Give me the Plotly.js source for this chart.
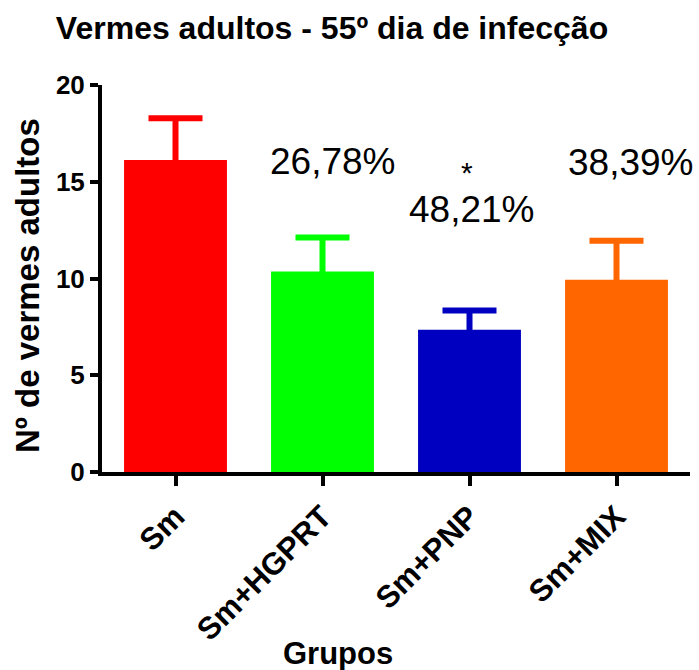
<!DOCTYPE html>
<html>
<head>
<meta charset="utf-8">
<script src="https://cdn.plot.ly/plotly-3.0.1.min.js"></script>
<style>html,body{margin:0;padding:0;background:#fff;}#chart{width:699px;height:670px;}</style>
</head>
<body>
<div id="chart"></div>
<script>
const categories = ["Sm", "Sm+HGPRT", "Sm+PNP", "Sm+MIX"];
const means = [16.13, 10.36, 7.35, 9.93];
const sem = [2.15, 1.76, 1.00, 2.02];
const colors = ["#FF0000", "#00FF00", "#0000C0", "#FF6600"];
const yTicks = [0, 5, 10, 15, 20];
const percentLabels = ["26,78%", "48,21%", "38,39%"];
const FONT = '"Liberation Sans", Arial, sans-serif';

const traces = categories.map((c, i) => ({
  type: 'bar',
  x: [c],
  y: [means[i]],
  marker: {color: colors[i], line: {width: 0}},
  error_y: {type: 'data', array: [sem[i]], visible: true, color: colors[i], thickness: 6, width: 27},
  width: 0.7,
  showlegend: false,
  hoverinfo: 'skip'
}));

const layout = {
  width: 699, height: 670,
  margin: {l: 102, r: 9, t: 85, b: 198},
  paper_bgcolor: '#fff', plot_bgcolor: '#fff',
  font: {family: FONT, color: '#000'},
  title: {text: 'Vermes adultos - 55º dia de infecção', font: {family: FONT, size: 32, color: '#000', weight: 'bold'},
          x: 0.475, xanchor: 'center', xref: 'container', y: 0.958, yanchor: 'middle', yref: 'container'},
  barmode: 'overlay',
  xaxis: {
    type: 'category', categoryarray: categories, categoryorder: 'array',
    range: [-0.5, 3.5], showgrid: false, zeroline: false,
    showline: true, linecolor: '#000', linewidth: 4,
    ticks: 'outside', ticklen: 10, tickwidth: 4, tickcolor: '#000',
    tickangle: -45, tickfont: {family: FONT, size: 31, weight: 'bold', color: '#000'}
  },
  yaxis: {
    range: [0, 20], tickvals: yTicks, ticktext: yTicks.map(String),
    showgrid: false, zeroline: false,
    showline: true, linecolor: '#000', linewidth: 4,
    ticks: 'outside', ticklen: 8, tickwidth: 4, tickcolor: '#000',
    tickfont: {family: FONT, size: 26, weight: 'bold', color: '#000'}
  },
  annotations: [
    {text: percentLabels[0], x: 1.07, y: 16.03, xref: 'x', yref: 'y', showarrow: false, font: {family: FONT, size: 37, color: '#000'}},
    {text: '*', x: 1.98, y: 15.5, xref: 'x', yref: 'y', showarrow: false, font: {family: FONT, size: 30, color: '#000'}},
    {text: percentLabels[1], x: 2.02, y: 13.55, xref: 'x', yref: 'y', showarrow: false, font: {family: FONT, size: 37, color: '#000'}},
    {text: percentLabels[2], x: 3.1, y: 15.98, xref: 'x', yref: 'y', showarrow: false, font: {family: FONT, size: 37, color: '#000'}},
    {text: 'Nº de vermes adultos', x: 0, y: 0, xref: 'paper', yref: 'paper', textangle: -90, showarrow: false,
     xanchor: 'center', yanchor: 'middle', font: {family: FONT, size: 33, weight: 'bold', color: '#000'}},
    {text: 'Grupos', x: 0, y: 0, xref: 'paper', yref: 'paper', showarrow: false,
     xanchor: 'center', yanchor: 'middle', font: {family: FONT, size: 31, weight: 'bold', color: '#000'}}
  ]
};
// convert pixel positions of axis-title annotations to paper coords
const pw = 699 - 102 - 9, ph = 670 - 85 - 198;
layout.annotations[4].x = (27 - 102) / pw;
layout.annotations[4].y = (472 - 286) / ph;
layout.annotations[5].x = (338 - 102) / pw;
layout.annotations[5].y = (472 - 653) / ph;

Plotly.newPlot('chart', traces, layout, {displayModeBar: false, staticPlot: true});
</script>
</body>
</html>
